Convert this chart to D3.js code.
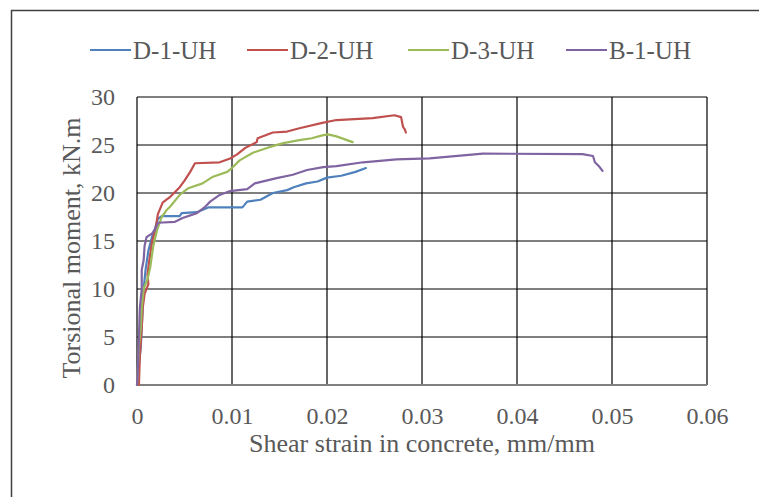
<!DOCTYPE html>
<html>
<head>
<meta charset="utf-8">
<script src="https://cdn.jsdelivr.net/npm/d3@7"></script>
<style>
  html, body { margin: 0; padding: 0; background: #fff; }
  svg text { font-family: "Liberation Serif", "Times New Roman", serif; fill: #595959; }
</style>
</head>
<body>
<svg id="chart" width="759" height="497"></svg>
<script>
// strain (mm/mm), torsional moment (kN.m)
const d1uh = [[0,0],[0.0002,2],[0.0004,4],[0.0005,6],[0.0006,8],[0.0007,10],[0.0009,12],[0.0012,14],[0.0016,15.5],[0.0019,16.3],[0.0022,17.3],[0.0026,17.6],[0.0045,17.6],[0.0047,17.9],[0.0063,18.0],[0.0075,18.5],[0.0111,18.5],[0.0116,19.1],[0.013,19.3],[0.0143,20.0],[0.0158,20.3],[0.0165,20.6],[0.0178,21.0],[0.019,21.2],[0.02,21.6],[0.0215,21.8],[0.023,22.2],[0.0241,22.6]]
const d2uh = [[0.0002,0],[0.0003,3],[0.0005,6],[0.0006,8],[0.0008,9.5],[0.0012,10.5],[0.0011,11.5],[0.0013,13],[0.0016,15],[0.0019,16],[0.0022,17.8],[0.0027,19],[0.0031,19.3],[0.0035,19.6],[0.004,20.1],[0.0045,20.6],[0.005,21.3],[0.0056,22.2],[0.0061,23.1],[0.0087,23.2],[0.0098,23.6],[0.0105,24.0],[0.0114,24.7],[0.0126,25.3],[0.0127,25.7],[0.0143,26.3],[0.0158,26.4],[0.0171,26.75],[0.0195,27.3],[0.021,27.6],[0.0248,27.8],[0.0271,28.1],[0.0278,27.9],[0.028,26.9],[0.0282,26.6],[0.0283,26.3]]
const d3uh = [[0,0],[0.0001,2],[0.0002,4],[0.0004,6],[0.0005,8],[0.0007,10],[0.0011,11],[0.0014,12.3],[0.0017,14.4],[0.0021,16.1],[0.0026,17.5],[0.0031,18.2],[0.0035,18.6],[0.0045,19.8],[0.0054,20.5],[0.0069,21.0],[0.008,21.7],[0.0095,22.2],[0.0101,22.7],[0.0108,23.4],[0.0122,24.2],[0.014,24.8],[0.0154,25.2],[0.0171,25.5],[0.0184,25.7],[0.0195,26.0],[0.0201,26.1],[0.021,25.9],[0.0227,25.3]]
const b1uh = [[0,0],[0.0001,2],[0.0002,5],[0.0003,8],[0.0005,10],[0.0005,12],[0.0007,13],[0.0008,14.5],[0.001,15.4],[0.0016,15.8],[0.0019,16.2],[0.0022,16.9],[0.004,17.0],[0.0048,17.4],[0.0063,17.9],[0.0071,18.5],[0.0077,19.1],[0.0087,19.8],[0.0098,20.2],[0.0116,20.4],[0.0124,21.0],[0.0147,21.55],[0.0164,21.9],[0.0179,22.4],[0.0196,22.7],[0.021,22.8],[0.0238,23.2],[0.0273,23.5],[0.0308,23.6],[0.0364,24.1],[0.0469,24.05],[0.048,23.85],[0.0482,23.2],[0.0487,22.7],[0.049,22.3]]

const seriesNames = ["D-1-UH", "D-2-UH", "D-3-UH", "B-1-UH"]
const seriesColors = ["#4F81BD", "#C0504D", "#9BBB59", "#8064A2"]
const xTicks = [0, 0.01, 0.02, 0.03, 0.04, 0.05, 0.06]
const yTicks = [0, 5, 10, 15, 20, 25, 30]

const series = [d1uh, d2uh, d3uh, b1uh].map((values, i) => ({
  name: seriesNames[i],
  color: seriesColors[i],
  values
}))

const serif = '"Liberation Serif", "Times New Roman", serif'
const svg = d3.select("#chart")
const margin = { top: 97, right: 52, bottom: 112, left: 137 }
const width = 759, height = 497

const x = d3.scaleLinear().domain([0, 0.06]).range([margin.left, width - margin.right])
const y = d3.scaleLinear().domain([0, 30]).range([height - margin.bottom, margin.top])

// outer chart frame
svg.append("rect")
  .attr("x", 11.5).attr("y", 10.5)
  .attr("width", 800).attr("height", 600)
  .attr("fill", "none").attr("stroke", "#404040").attr("stroke-width", 1.5)

// gridlines
const grid = svg.append("g")
grid.selectAll("line.v").data(xTicks).join("line")
  .attr("x1", d => x(d)).attr("x2", d => x(d))
  .attr("y1", y(0)).attr("y2", y(30))
  .attr("stroke", "#000").attr("stroke-width", 1.2)
grid.selectAll("line.h").data(yTicks).join("line")
  .attr("x1", x(0)).attr("x2", x(0.06))
  .attr("y1", d => y(d)).attr("y2", d => y(d))
  .attr("stroke", d => d === 0 ? "#808080" : "#000")
  .attr("stroke-width", d => d === 0 ? 2 : 1.2)

// tick labels via d3 axes
const xAxis = svg.append("g")
  .attr("transform", `translate(0,${y(0)})`)
  .call(d3.axisBottom(x).tickValues(xTicks).tickSize(0).tickPadding(22).tickFormat(d => d === 0 ? "0" : d3.format(".2f")(d)))
xAxis.select(".domain").remove()
xAxis.attr("font-family", null)
xAxis.selectAll("text").attr("font-size", 24).style("font-family", serif).attr("fill", "#595959")

const yAxis = svg.append("g")
  .attr("transform", `translate(${x(0)},0)`)
  .call(d3.axisLeft(y).tickValues(yTicks).tickSize(0).tickPadding(22))
yAxis.select(".domain").remove()
yAxis.attr("font-family", null)
yAxis.selectAll("text").attr("font-size", 24).style("font-family", serif).attr("fill", "#595959")

// curves
const line = d3.line().x(d => x(d[0])).y(d => y(d[1]))
svg.append("g").selectAll("path").data(series).join("path")
  .attr("d", d => line(d.values))
  .attr("fill", "none")
  .attr("stroke", d => d.color)
  .attr("stroke-width", 2.2)
  .attr("stroke-linejoin", "round")
  .attr("stroke-linecap", "round")

// titles
svg.append("text")
  .attr("x", (x(0) + x(0.06)) / 2).attr("y", 452)
  .attr("text-anchor", "middle").attr("font-size", 26)
  .text("Shear strain in concrete, mm/mm")

svg.append("text")
  .attr("transform", `translate(80,248) rotate(-90)`)
  .attr("text-anchor", "middle").attr("font-size", 26)
  .text("Torsional moment, kN.m")

// legend
const legendX = [90, 247, 408, 566]
const legend = svg.append("g").selectAll("g").data(series).join("g")
  .attr("transform", (d, i) => `translate(${legendX[i]},50)`)
legend.append("line")
  .attr("x1", 0).attr("x2", 41).attr("y1", 0).attr("y2", 0)
  .attr("stroke", d => d.color).attr("stroke-width", 2.2)
legend.append("text")
  .attr("x", 43).attr("y", 8.5).attr("font-size", 25)
  .text(d => d.name)
</script>
</body>
</html>
